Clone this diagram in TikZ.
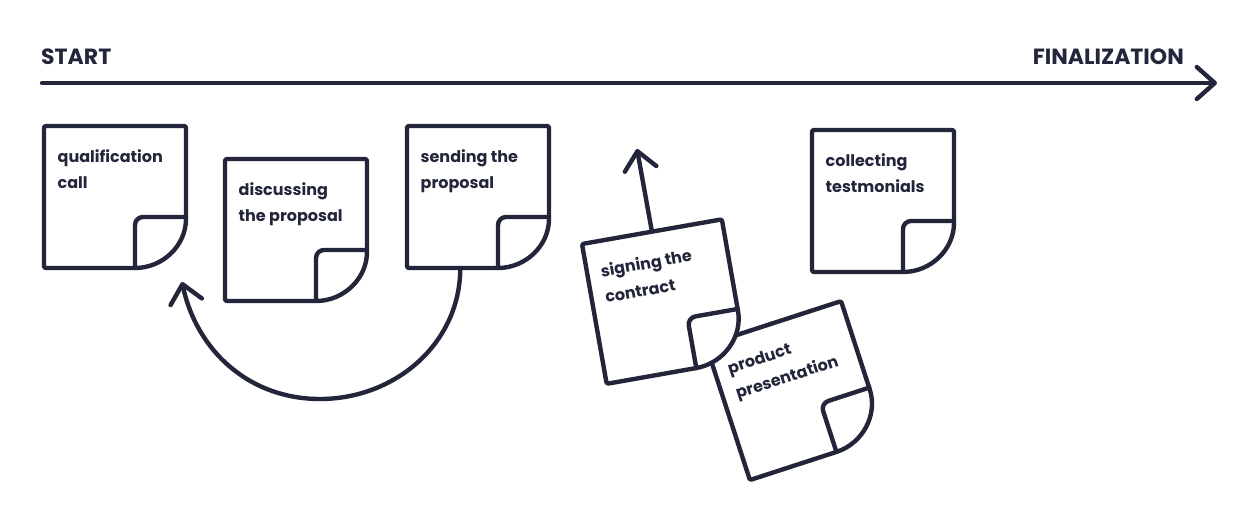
\documentclass[tikz,border=0pt]{standalone}
\usepackage{fontspec}
\setmainfont{Poppins}
\usetikzlibrary{arrows.meta}

\definecolor{ink}{HTML}{23263B}

\tikzset{
  notebody/.style={minimum size=142pt, inner sep=0pt},
  notetext/.style={anchor=north west, inner sep=0pt, align=left, text=ink, font=\bfseries\fontsize{16}{26}\selectfont},
  headtext/.style={inner sep=0pt, text=ink, font=\bfseries\fontsize{22}{26}\selectfont},
  inkline/.style={draw=ink, line width=4.4pt, line cap=round, line join=round},
  barb/.style={-{Straight Barb[length=18pt, width=32pt, round]}},
}

% name, left, top, angle, text
\newcommand{\stickynote}[5]{
  \begin{scope}[shift={(#2,#3)}, rotate=#4, every node/.style={transform shape}]
    \node[notebody] (#1) at (71,-71) {};
    \filldraw[inkline, fill=white, rounded corners=2pt] (0,0) -- (142,0) -- (142,-91)
      {[sharp corners] arc[start angle=0, end angle=-90, radius=51]} -- (0,-142) -- cycle;
    \draw[inkline, rounded corners=8pt] (91,-142) -- (91,-91) -- (142,-91);
    \node[notetext] (#1text) at (13.5,-23) {#5};
  \end{scope}
}

\begin{document}
\begin{tikzpicture}[x=1pt, y=1pt]
\useasboundingbox (0,0) rectangle (1246,514);

\node[headtext, anchor=base west] (start) at (41,449) {START};
\node[headtext, anchor=base east] (final) at (1184,449) {FINALIZATION};

\coordinate (axisa) at (42,431);
\coordinate (axisb) at (1217,431);
\draw[inkline, barb] (axisa) -- (axisb);

\stickynote{product}{706}{169}{18}{product\\presentation}
\stickynote{signing}{582}{270}{10}{signing the\\contract}
\stickynote{qualify}{44}{388}{0}{qualification\\call}
\stickynote{discuss}{225}{355}{0}{discussing\\the proposal}
\stickynote{sending}{407}{388}{0}{sending the\\proposal}
\stickynote{collect}{812}{384}{0}{collecting\\testmonials}

% back to the first call
\coordinate (low) at (320,115);
\coordinate (back) at (182,232);
\draw[inkline] (sending.-104) to [out=-90, in=0] (low);
\draw[inkline, barb] (low) to [out=180, in=-78] (back);

% on to the next step
\coordinate (up) at (637,365);
\draw[inkline, barb] (signing.north) -- (up);
\end{tikzpicture}
\end{document}
